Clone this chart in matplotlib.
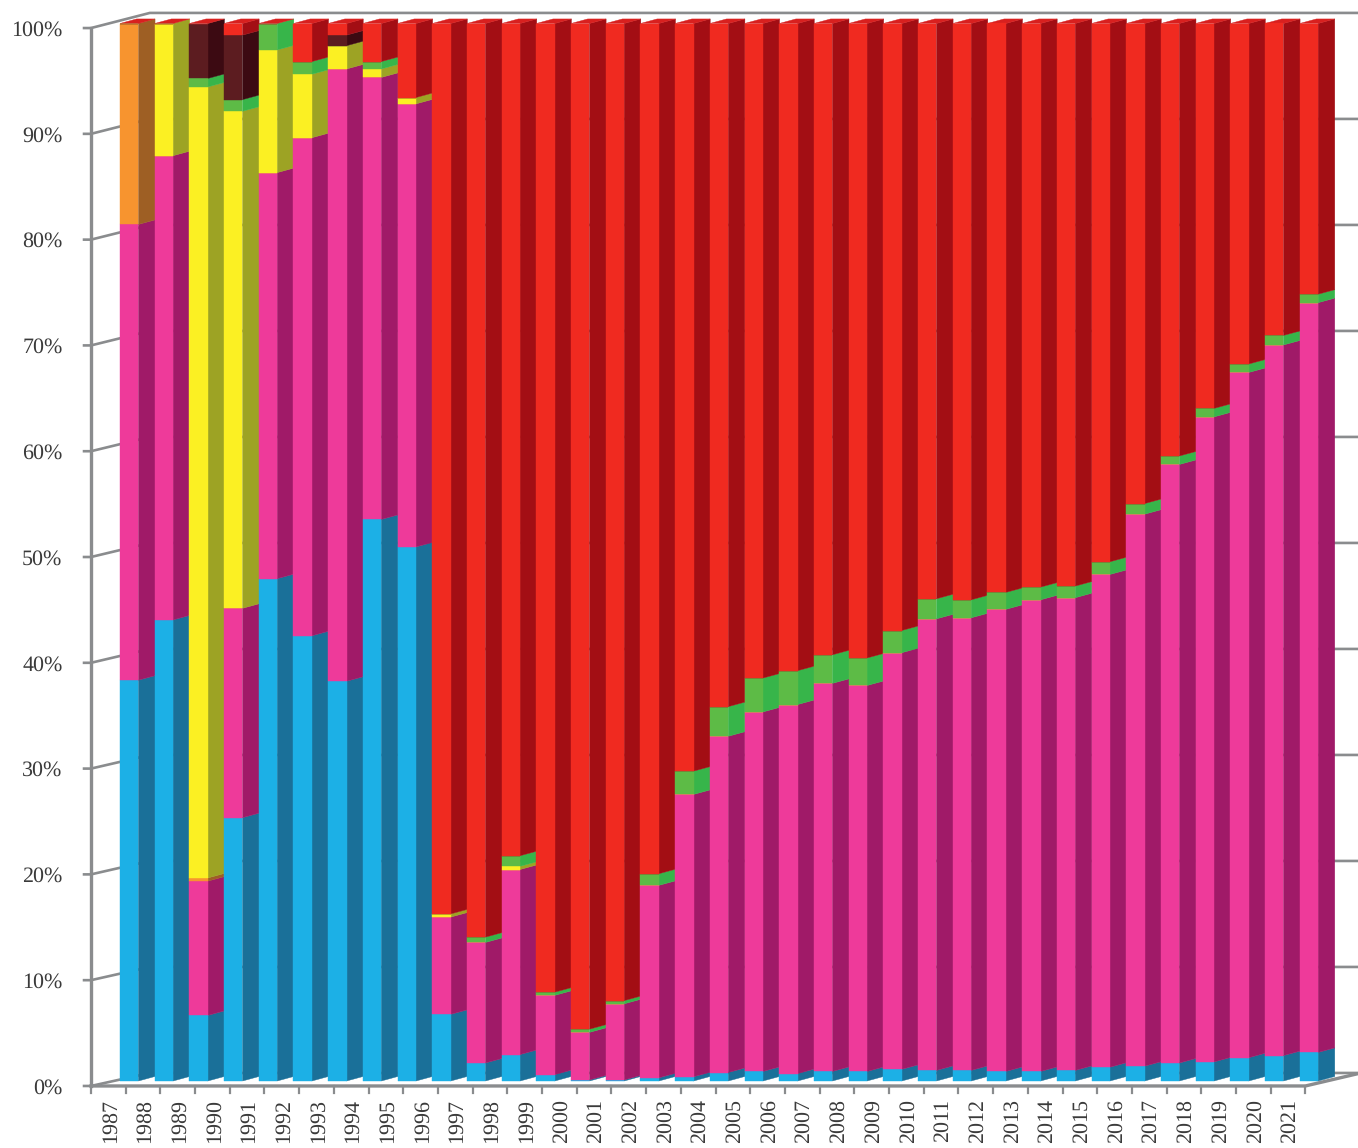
import matplotlib
matplotlib.use('Agg')
import numpy as np
import matplotlib.pyplot as plt

# -----------------------------
# Data (share in %)
# -----------------------------
years = list(range(1987, 2022))

blue = [37.9, 43.6, 6.2, 24.9, 47.5, 42.1, 37.8, 53.1, 50.5, 6.3, 1.7, 2.5, 0.6, 0.1, 0.1,
        0.3, 0.4, 0.8, 0.9, 0.7, 0.9, 0.9, 1.1, 1.0, 1.0, 0.9, 0.9, 1.0, 1.3, 1.4, 1.7, 1.8,
        2.2, 2.4, 2.7]
pink = [43.1, 43.9, 12.7, 19.8, 38.4, 47.1, 57.9, 41.8, 41.9, 9.2, 11.4, 17.5, 7.5, 4.5, 7.2,
        18.2, 26.7, 31.8, 34.0, 34.9, 36.7, 36.5, 39.4, 42.7, 42.8, 43.7, 44.6, 44.7, 46.6,
        52.2, 56.6, 61.0, 64.8, 67.2, 70.9]
orange = [19.0, 0, 0.3, 0, 0, 0, 0, 0, 0, 0, 0, 0, 0, 0, 0, 0, 0, 0, 0, 0, 0, 0, 0, 0, 0, 0,
          0, 0, 0, 0, 0, 0, 0, 0, 0]
yellow = [0, 12.5, 74.8, 47.0, 11.6, 6.0, 2.2, 0.8, 0.6, 0.3, 0, 0.3, 0, 0, 0, 0, 0, 0, 0, 0,
          0, 0, 0, 0, 0, 0, 0, 0, 0, 0, 0, 0, 0, 0, 0]
green = [0, 0, 0.8, 1.1, 2.5, 1.2, 0, 0.7, 0, 0, 0.5, 1.0, 0.3, 0.3, 0.3, 1.1, 2.2, 2.8, 3.2,
         3.2, 2.7, 2.6, 2.1, 1.9, 1.7, 1.6, 1.2, 1.1, 1.2, 1.0, 0.8, 0.8, 0.8, 0.9, 0.8]
dark = [0, 0, 5.2, 6.1, 0, 0, 1.0, 0, 0, 0, 0, 0, 0, 0, 0, 0, 0, 0, 0, 0, 0, 0, 0, 0, 0, 0, 0,
        0, 0, 0, 0, 0, 0, 0, 0]
red = [0, 0, 0, 1.1, 0, 3.6, 1.1, 3.6, 7.0, 84.2, 86.4, 78.7, 91.6, 95.1, 92.4, 80.4, 70.7,
       64.6, 61.9, 61.2, 59.7, 60.0, 57.4, 54.4, 54.5, 53.8, 53.3, 53.2, 50.9, 45.4, 40.9,
       36.4, 32.2, 29.5, 25.6]

series = [blue, pink, orange, yellow, green, dark, red]
front_colors = ['#1cb0e6', '#ee3a9a', '#f7942f', '#fbf023', '#5dbb46', '#5c1c20', '#f02a20']
side_colors = ['#1a7099', '#a01a68', '#9e5f24', '#9da324', '#37b54a', '#3c0a12', '#a30e14']

# -----------------------------
# Fake 3D geometry (x in bar slots, y in %)
# -----------------------------
bar_w = 0.53
depth_x = 0.48
depth_y = 0.43
axis_x = -0.836
front_y0, front_y1 = -0.47, 99.57
wall_x = 0.86
wall_y0, wall_y1 = 0.76, 101.0
right_x = 35.68

grey = '#8a8c8e'
text_col = '#3a3a3a'

plt.rcParams['font.family'] = ['Liberation Serif', 'DejaVu Serif']
plt.rcParams['text.hinting'] = 'no_hinting'
plt.rcParams['text.hinting_factor'] = 1

fig = plt.figure(figsize=(13.58, 11.48), dpi=100)
ax = fig.add_axes([0, 0, 1, 1])
ax.set_xlim(-120 / 34.7, right_x)
ax.set_ylim(-67 / 10.575, 1081 / 10.575)
ax.axis('off')

# -----------------------------
# Walls, axes and ticks
# -----------------------------
for p in range(0, 110, 10):
    f = front_y0 + (front_y1 - front_y0) * p / 100
    w = wall_y0 + (wall_y1 - wall_y0) * p / 100
    ax.plot([axis_x - 0.2, axis_x, wall_x, right_x], [f, f, w, w], color=grey, lw=1.9, zorder=1,
            solid_joinstyle='miter')
    ax.text(-1.657, f - 0.2, f'{p}%', ha='right', va='center', fontsize=16, color=text_col)

ax.plot([axis_x, axis_x], [front_y0, front_y1], color=grey, lw=2.4, zorder=2)
axis_end = axis_x + len(years)
ax.plot([axis_x, axis_end, axis_end + 1.6], [front_y0, front_y0, wall_y0], color=grey, lw=2.4,
        zorder=2, solid_joinstyle='miter')

for i, yr in enumerate(years):
    ax.plot([axis_x + i] * 2, [front_y0, front_y0 - 0.65], color=grey, lw=1.6, zorder=2)
    ax.text(axis_x + i + 0.55, -1.72, str(yr), rotation=90, ha='center', va='top',
            fontsize=16, color=text_col)
ax.plot([axis_end] * 2, [front_y0, front_y0 - 0.65], color=grey, lw=1.6, zorder=2)

# -----------------------------
# Stacked bars: front face, side face, red top face
# -----------------------------
x = np.arange(len(years))
bottom = np.zeros(len(years))
for vals, fc, sc in zip(series, front_colors, side_colors):
    vals = np.array(vals, dtype=float)
    ax.bar(x, vals, bar_w, bottom=bottom, align='edge', color=fc, edgecolor=fc, linewidth=0.3,
           zorder=4)
    for i in x:
        if vals[i] == 0:
            continue
        b, t = bottom[i], bottom[i] + vals[i]
        xs = [i + bar_w, i + bar_w + depth_x, i + bar_w + depth_x, i + bar_w]
        ys = [b, b + depth_y, t + depth_y, t]
        ax.fill(xs, ys, color=sc, linewidth=0.3, zorder=3)
    bottom = bottom + vals

for i in x:
    t = bottom[i]
    xs = [i, i + bar_w, i + bar_w + depth_x, i + depth_x]
    ys = [t, t, t + depth_y, t + depth_y]
    ax.fill(xs, ys, color='#d8201f', linewidth=0.3, zorder=3)

fig.savefig('out.png', dpi=100)
